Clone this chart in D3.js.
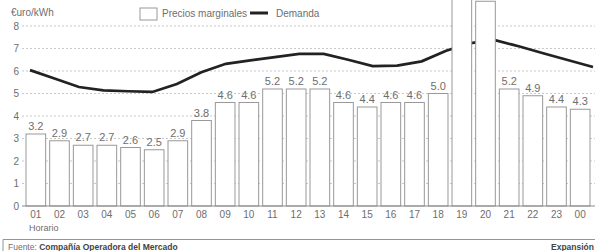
<!DOCTYPE html>
<html>
  <head>
      <meta charset="utf-8">
      <script type="text/javascript" src="https://cdn.jsdelivr.net/npm/d3@7"></script>
      <style>
        body { margin:0; background:#fff; }
        text { font-family: "Liberation Sans Narrow", "Liberation Sans", sans-serif; fill:#6e6e6e; }
      </style>
  </head>
  <body>
      <svg width="595" height="251"></svg>
      <script>
          // horas, precios marginales (barras) y demanda (linea)
          var horas = ['01','02','03','04','05','06','07','08','09','10','11','12',
                       '13','14','15','16','17','18','19','20','21','22','23','00']
          var precios = [3.2,2.9,2.7,2.7,2.6,2.5,2.9,3.8,4.6,4.6,5.2,5.2,
                         5.2,4.6,4.4,4.6,4.6,5.0,9.3,9.1,5.2,4.9,4.4,4.3]
          var demanda = [6.04,5.67,5.29,5.14,5.10,5.07,5.42,5.94,6.32,6.47,6.62,6.76,
                         6.76,6.50,6.22,6.24,6.43,6.90,7.24,7.37,7.09,6.78,6.48,6.18]
          var yTicks = [0,1,2,3,4,5,6,7,8]

          var svg = d3.select('svg')

          var x = d3.scaleBand().domain(horas).range([24, 592])
                    .paddingInner(0.17).paddingOuter(0.085)
          var xl = d3.scalePoint().domain(horas).range([30, 593]) // la linea va un poco mas ancha
          var y = d3.scaleLinear().domain([0, 8]).range([206, 26])

          // rejilla
          svg.selectAll('.grid').data(yTicks.slice(1)).enter().append('line')
             .attr('x1', 22).attr('x2', 595)
             .attr('y1', function(d){ return y(d) }).attr('y2', function(d){ return y(d) })
             .attr('stroke', '#bbb').attr('stroke-width', 0.8)
             .attr('stroke-dasharray', '2,2')

          svg.selectAll('.ylab').data(yTicks).enter().append('text')
             .attr('x', 19).attr('y', function(d){ return y(d) + 3.5 })
             .attr('text-anchor', 'end').attr('font-size', 10)
             .text(function(d){ return d })

          // demanda (queda detras de las barras)
          var line = d3.line()
             .x(function(d,i){ return xl(horas[i]) })
             .y(function(d){ return y(d) })
          svg.append('path').datum(demanda)
             .attr('d', line).attr('fill', 'none')
             .attr('stroke', '#222').attr('stroke-width', 2.7)

          // barras
          svg.selectAll('rect.bar').data(precios).enter().append('rect')
             .attr('class', 'bar')
             .attr('x', function(d,i){ return x(horas[i]) })
             .attr('width', x.bandwidth())
             .attr('y', function(d){ return y(d) })
             .attr('height', function(d){ return y(0) - y(d) })
             .attr('fill', '#fff').attr('stroke', '#999').attr('stroke-width', 1)

          svg.selectAll('.vlab').data(precios).enter().append('text')
             .attr('x', function(d,i){ return x(horas[i]) + x.bandwidth()/2 })
             .attr('y', function(d){ return y(d) - 4 })
             .attr('text-anchor', 'middle').attr('font-size', 11)
             .text(function(d){ return d.toFixed(1) })

          // eje x
          svg.append('line').attr('x1', 22).attr('x2', 595)
             .attr('y1', y(0)).attr('y2', y(0)).attr('stroke', '#888').attr('stroke-width', 1)
          svg.selectAll('.xlab').data(horas).enter().append('text')
             .attr('x', function(d){ return x(d) + x.bandwidth()/2 })
             .attr('y', 218).attr('text-anchor', 'middle').attr('font-size', 10)
             .text(function(d){ return d })
          svg.append('text').attr('x', 29).attr('y', 231).attr('font-size', 9).text('Horario')

          // titulo y leyenda
          svg.append('text').attr('x', 11).attr('y', 16).attr('font-size', 10).text('€uro/kWh')
          svg.append('rect').attr('x', 140).attr('y', 8).attr('width', 17).attr('height', 12)
             .attr('fill', '#fff').attr('stroke', '#999')
          svg.append('text').attr('x', 162).attr('y', 17).attr('font-size', 10).text('Precios marginales')
          svg.append('line').attr('x1', 250).attr('x2', 268).attr('y1', 13).attr('y2', 13)
             .attr('stroke', '#222').attr('stroke-width', 3)
          svg.append('text').attr('x', 276).attr('y', 17).attr('font-size', 10).text('Demanda')

          // fuente
          svg.append('path').attr('d', 'M3,251 V239.5 H595')
             .attr('fill', 'none').attr('stroke', '#8a9a98').attr('stroke-width', 1)
          var f = svg.append('text').attr('x', 8).attr('y', 250).attr('font-size', 8.5)
          f.append('tspan').text('Fuente: ')
          f.append('tspan').attr('font-weight', 'bold').style('fill', '#444').text('Compañía Operadora del Mercado')
          svg.append('text').attr('x', 594).attr('y', 250).attr('font-size', 8.5)
             .attr('text-anchor', 'end').attr('font-weight', 'bold').style('fill', '#444').text('Expansión')
      </script>
  </body>
</html>
